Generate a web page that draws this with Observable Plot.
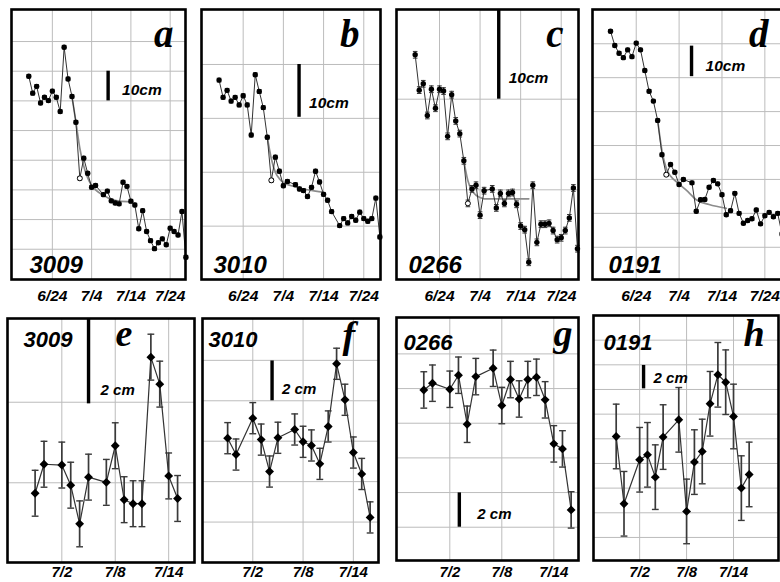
<!DOCTYPE html>
<html><head><meta charset="utf-8">
<script src="https://cdn.jsdelivr.net/npm/d3@7"></script>
<script src="https://cdn.jsdelivr.net/npm/@observablehq/plot@0.6"></script>
<style>
body{margin:0;background:#fff;}
#chart{position:relative;width:780px;height:582px;overflow:hidden;background:#fff;}
#chart svg{position:absolute;overflow:visible;}
</style></head><body><div id="chart"></div>
<script>
// ---------- DATA ----------
// day numbers: July day (6/30 = 0, 6/24 = -6, 7/4 = 4 ...)
const topTicks = [-6, 4, 14, 24];
const topTickLabels = ["6/24", "7/4", "7/14", "7/24"];
const botTicks = [2, 8, 14];
const botTickLabels = ["7/2", "7/8", "7/14"];

const topDays = [-12,-11,-10,-9,-8,-7,-6,-5,-4,-3,-2,-1,0,1,2,3,4,5,7,8,9,10,11,12,13,14,15,16,17,18,19,20,21,22,23,24,25,26,27,28];
const bDays   = [-12,-11,-10,-9,-8,-7,-6,-5,-4,-3,-2,-1,0,1,2,3,4,5,7,8,9,10,11,12,13,14,15,16,18,19,20,21,22,23,24,25,26,27,28];
const openDay = 1;

const aVals = [58.3,52.6,54.9,49.3,51.2,50.1,53.3,51.2,46.4,68.1,57.4,51.5,42.8,23.9,30.7,25.6,20.9,21.5,18.4,19.6,16.3,15.6,15.3,22.6,21.2,16.2,14.9,6.9,13.0,6.0,2.9,0.2,2.2,3.5,1.5,7.1,6.0,4.8,12.7,-2.7];
const bVals = [27.1,23.9,25.2,23.2,23.9,22.5,24.2,22.5,16.9,28.1,25.0,22.0,16.5,8.5,12.8,10.2,7.5,8.3,7.7,6.9,6.6,5.5,7.2,10.2,8.2,5.9,4.8,2.7,0.1,1.4,0.6,1.8,1.1,2.6,1.4,0.9,1.4,5.2,-2.0];
const cVals = [14.9,11.0,11.7,8.2,11.1,9.0,11.1,10.9,5.9,10.5,7.6,6.2,3.2,-1.5,0.1,0.5,-2.8,-0.1,0.1,-2.0,-0.4,-1.5,-0.4,-0.3,-1.6,-4.0,-4.4,-8.0,0.5,-5.8,-3.8,-3.8,-3.7,-4.5,-5.5,-5.3,-4.5,-3.1,0.2,-6.5];
const dVals = [63.7,59.5,57.2,55.9,58.2,56.2,60.2,58.2,52.1,46.0,43.1,37.4,27.3,21.4,24.4,22.1,18.5,20.0,19.0,10.6,14.0,14.1,17.7,19.7,18.7,15.5,9.6,10.8,15.9,10.0,7.1,7.9,8.4,11.0,6.9,9.3,10.3,9.0,10.0,3.9];
const topErr = [0.6, 0.35, 0.37, 0.5];

// fitted recession curves (grey)
const aFitDays = [-1,0,1,2,3,4,5,7,9,11,14];
const aFitVals = [51.5,42.8,34.0,28.0,24.0,21.5,20.0,18.2,16.8,16.2,16.0];
const bFitDays = [0,1,2,3,4,6,9,12,14];
const bFitVals = [16.5,12.5,10.0,8.8,8.1,7.5,6.9,6.5,6.3];
const cFitDays = [0,1,2,3,4,5,10,16];
const cFitVals = [3.2,1.0,-0.1,-0.6,-0.85,-1.0,-1.0,-1.0];
const dFitDays = [-1,0,1,2,3.5,6,8,11,15];
const dFitVals = [37.4,28.5,23.3,21.0,19.2,16.5,14.0,12.6,11.5];

const eDays = [-1,0,2,3,4,5,7,8,9,10,11,12,13,14,15];
const fghDays = [-1,0,2,3,4,5,7,8,9,10,11,12,13,14,15,16];
const eVals = [-0.26,0.46,0.44,-0.06,-1.02,0.14,0.01,0.92,-0.42,-0.52,-0.52,3.12,2.45,0.17,-0.39];
const fVals = [0.15,-0.66,1.14,0.08,-1.50,0.17,0.58,-0.03,-0.21,-1.12,0.73,3.83,2.05,-0.56,-1.62,-3.77];
const gVals = [1.92,2.31,1.96,2.77,-0.06,2.69,3.17,1.02,2.52,1.40,2.52,2.65,1.35,-1.19,-1.48,-5.0];
const hVals = [0.19,-5.27,-1.70,-1.30,-3.11,0.14,1.54,-5.89,-1.89,-1.03,2.84,5.19,4.59,1.81,-4.0,-2.89];
const botErr = [0.57, 0.77, 1.05, 2.62];

const aGrid = [0,10,20,30,40,50,60,70];
const bGrid = [0,10,20,30];
const cGrid = [0,10];
const dGrid = [0,10,20,30,40,50,60];
const eGrid = [0,2];
const fGrid = [-4,-2,0,2,4];
const gGrid = [-6,-4,-2,0,2,4];
const hGrid = [-8,-6,-4,-2,0,2,4,6,8];

const stationIds = ["3009","3010","0266","0191","3009","3010","0266","0191"];
const panelLetters = ["a","b","c","d","e","f","g","h"];
const scaleBars = [
  {x: 8.2, lo: 50, hi: 60, text: "10cm"},
  {x: 7.9, lo: 20.2, hi: 30, text: "10cm"},
  {x: 8.6, lo: 10, hi: 19.9, text: "10cm"},
  {x: 6.9, lo: 50.3, hi: 59.3, text: "10cm"},
  {x: 5.0, lo: 1.96, hi: 4.08, text: "2 cm"},
  {x: 4.3, lo: 2.0, hi: 3.97, text: "2 cm"},
  {x: 3.1, lo: -6.0, hi: -4.02, text: "2 cm"},
  {x: 2.5, lo: 4.05, hi: 5.95, text: "2 cm"}
];

// ---------- PANEL SETUP ----------
const panels = [
  {days: topDays, values: aVals, err: topErr[0], fitDays: aFitDays, fitVals: aFitVals, grid: aGrid, xDomain: [-16.4, 27.9], yDomain: [-10.2, 80.8], top: true},
  {days: bDays,   values: bVals, err: topErr[1], fitDays: bFitDays, fitVals: bFitVals, grid: bGrid, xDomain: [-16.37, 28.16], yDomain: [-9.9, 40.2], top: true},
  {days: topDays, values: cVals, err: topErr[2], fitDays: cFitDays, fitVals: cFitVals, grid: cGrid, xDomain: [-16.6, 28.26], yDomain: [-9.9, 19.9], top: true},
  {days: topDays, values: dVals, err: topErr[3], fitDays: dFitDays, fitVals: dFitVals, grid: dGrid, xDomain: [-16.2, 28.35], yDomain: [-9.5, 70.1], top: true},
  {days: eDays,   values: eVals, err: botErr[0], grid: eGrid, xDomain: [-4.1, 16.9], yDomain: [-1.98, 4.08], top: false},
  {days: fghDays, values: fVals, err: botErr[1], grid: fGrid, xDomain: [-4.0, 17.0], yDomain: [-6.0, 6.07], top: false},
  {days: fghDays, values: gVals, err: botErr[2], grid: gGrid, xDomain: [-4.15, 16.85], yDomain: [-7.92, 6.1], top: false},
  {days: fghDays, values: hVals, err: botErr[3], grid: hGrid, xDomain: [-3.9, 19.75], yDomain: [-9.87, 10.0], top: false}
];

// layout (pixels): frame rectangle and text offsets
const layout = [
  {x: 11,  y: 9,   w: 174, h: 270, tickPad: 10, letDx: -12, letDy: 10, idDx: 18, idDy: -7, barDx: 14, barDy: -11},
  {x: 201, y: 9,   w: 179, h: 270, tickPad: 10, letDx: -21, letDy: 10, idDx: 12, idDy: -7, barDx: 10, barDy: -14},
  {x: 396, y: 9,   w: 182, h: 270, tickPad: 10, letDx: -15, letDy: 10, idDx: 12, idDy: -7, barDx: 10, barDy: -21},
  {x: 592, y: 9,   w: 191, h: 270, tickPad: 10, letDx: -15, letDy: 10, idDx: 16, idDy: -7, barDx: 14, barDy: -11},
  {x: 7,   y: 318, w: 187, h: 244, tickPad: 4,  letDx: 108, letDy: 1,  idDx: 16, idDy: 13, barDx: 12, barDy: -14},
  {x: 202, y: 318, w: 176, h: 244, tickPad: 4,  letDx: 140, letDy: 3,  idDx: 6,  idDy: 13, barDx: 10, barDy: -12},
  {x: 396, y: 317, w: 182, h: 243, tickPad: 6,  letDx: 157, letDy: 2,  idDx: 7,  idDy: 17, barDx: 18, barDy: -13},
  {x: 593, y: 315, w: 185, h: 245, tickPad: 6,  letDx: 150, letDy: 4,  idDx: 10, idDy: 19, barDx: 10, barDy: -11}
];

const SANS = "'Liberation Sans', Arial, Helvetica, sans-serif";
const SERIF = "'Liberation Serif', 'Times New Roman', serif";
const capSymbol = {draw(ctx, size) { const w = Math.sqrt(size / Math.PI); ctx.moveTo(-w, 0); ctx.lineTo(w, 0); }};

const chart = document.getElementById("chart");

panels.forEach((p, k) => {
  const L = layout[k];
  const m = {l: 3, r: 3, t: 3, b: p.top ? 36 : 19};
  const pts = p.days.map((d, i) => ({day: d, v: p.values[i], err: p.err, open: p.top && d === openDay}));
  const ticks = p.top ? topTicks : botTicks;
  const labels = p.top ? topTickLabels : botTickLabels;
  const tickMap = new Map(ticks.map((t, i) => [t, labels[i]]));
  const gridColor = "#bcbcbc";
  const bar = scaleBars[k];
  const marks = [
    Plot.gridX(ticks, {stroke: gridColor, strokeOpacity: 1, strokeWidth: 1}),
    Plot.gridY(p.grid, {stroke: gridColor, strokeOpacity: 1, strokeWidth: 1}),
    Plot.axisX(ticks, {tickSize: 0, tickPadding: L.tickPad, tickFormat: d => tickMap.get(d), label: null,
      fontSize: p.top ? 15.5 : 15, fontWeight: "bold", fontStyle: "italic", fontFamily: SANS, fill: "#000"})
  ];
  if (p.top) {
    const fit = p.fitDays.map((d, i) => ({day: d, v: p.fitVals[i]}));
    marks.push(
      Plot.line(fit, {x: "day", y: "v", stroke: "#8c8c8c", strokeWidth: 1.7, curve: "monotone-x"}),
      Plot.line(pts, {x: "day", y: "v", stroke: "#333", strokeWidth: 1}),
      Plot.ruleX(pts, {x: "day", y1: d => d.v - d.err, y2: d => d.v + d.err, stroke: "#333", strokeWidth: 1}),
      Plot.dot(pts, {x: "day", y: d => d.v + d.err, symbol: capSymbol, r: 2.3, fill: "none", stroke: "#333", strokeWidth: 1}),
      Plot.dot(pts, {x: "day", y: d => d.v - d.err, symbol: capSymbol, r: 2.3, fill: "none", stroke: "#333", strokeWidth: 1}),
      Plot.dot(pts.filter(d => !d.open), {x: "day", y: "v", r: 2.7, fill: "#000", stroke: "none"}),
      Plot.dot(pts.filter(d => d.open), {x: "day", y: "v", r: 2.5, fill: "#fff", stroke: "#000", strokeWidth: 1})
    );
  } else {
    marks.push(
      Plot.ruleX(pts, {x: "day", y1: d => d.v - d.err, y2: d => d.v + d.err, stroke: "#3a3a3a", strokeWidth: 1.7}),
      Plot.dot(pts, {x: "day", y: d => d.v + d.err, symbol: capSymbol, r: 3.4, fill: "none", stroke: "#3a3a3a", strokeWidth: 1.4}),
      Plot.dot(pts, {x: "day", y: d => d.v - d.err, symbol: capSymbol, r: 3.4, fill: "none", stroke: "#3a3a3a", strokeWidth: 1.4}),
      Plot.line(pts, {x: "day", y: "v", stroke: "#333", strokeWidth: 1.2}),
      Plot.dot(pts, {x: "day", y: "v", symbol: "diamond2", r: 4, fill: "#000", stroke: "none"})
    );
  }
  // scale bar
  marks.push(
    Plot.ruleX([bar], {x: "x", y1: "lo", y2: "hi", stroke: "#000", strokeWidth: 3.4}),
    Plot.text([bar], {x: "x", y: "lo", text: "text", dx: L.barDx, dy: L.barDy, textAnchor: "start", lineAnchor: "middle",
      fontSize: p.top ? 15.5 : 15, fontWeight: "bold", fontStyle: "italic", fontFamily: SANS, fill: "#000"})
  );
  // station id
  marks.push(Plot.text([stationIds[k]], {
    frameAnchor: p.top ? "bottom-left" : "top-left", lineAnchor: p.top ? "bottom" : "top", textAnchor: "start",
    dx: L.idDx, dy: L.idDy, text: d => d, fontSize: p.top ? 24 : 22, fontWeight: "bold", fontStyle: "italic", fontFamily: SANS, fill: "#000"
  }));
  // panel letter
  marks.push(Plot.text([panelLetters[k]], {
    frameAnchor: p.top ? "top-right" : "top-left", textAnchor: p.top ? "end" : "start", lineAnchor: "top",
    dx: L.letDx, dy: L.letDy, text: d => d, fontSize: p.top ? 39 : 38, fontWeight: "bold", fontStyle: "italic", fontFamily: SERIF, fill: "#000"
  }));
  marks.push(Plot.frame({stroke: "#000", strokeWidth: 2.6}));

  const svg = Plot.plot({
    width: L.w + m.l + m.r,
    height: L.h + m.t + m.b,
    marginLeft: m.l, marginRight: m.r, marginTop: m.t, marginBottom: m.b,
    x: {domain: p.xDomain, label: null},
    y: {domain: p.yDomain, axis: null, label: null},
    style: {fontFamily: SANS, background: "transparent", overflow: "visible", maxWidth: "none"},
    marks
  });
  svg.style.position = "absolute";
  svg.style.left = (L.x - m.l) + "px";
  svg.style.top = (L.y - m.t) + "px";
  chart.appendChild(svg);
});
</script></body></html>
